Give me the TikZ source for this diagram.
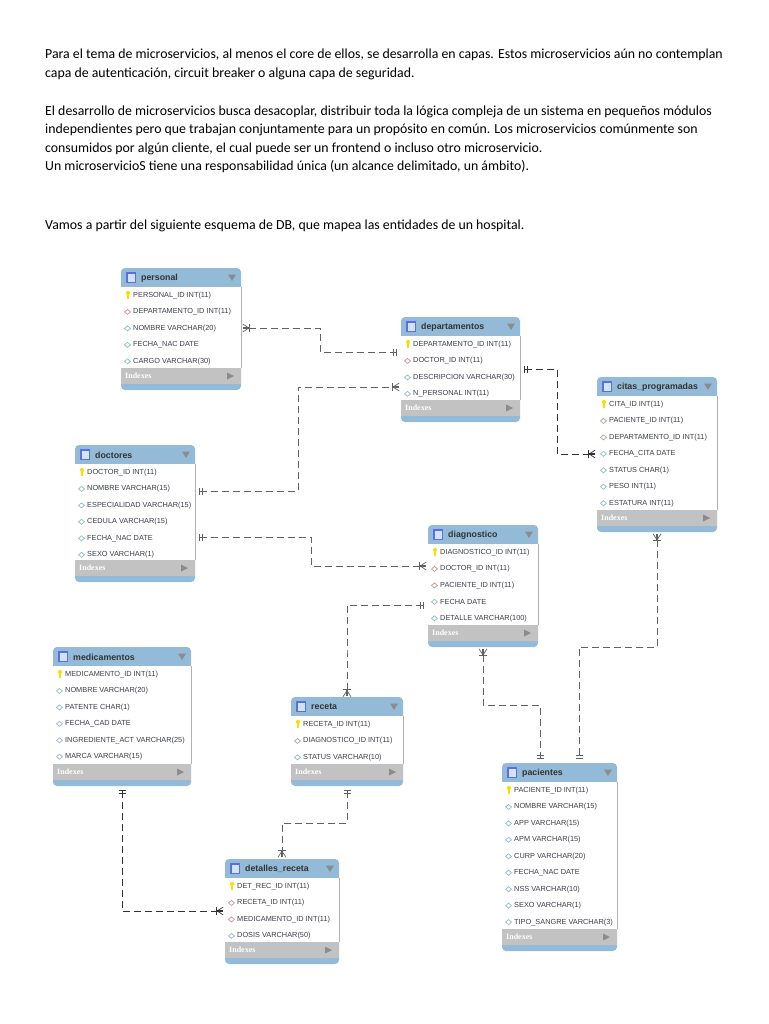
\documentclass[tikz,border=0pt]{standalone}
\usepackage{fontspec}
\setmainfont{Carlito}
\newfontfamily\rowfont{Liberation Sans}
\newfontfamily\titlefont{Liberation Sans}
\newfontfamily\idxfont{Liberation Serif}
\usetikzlibrary{arrows.meta,calc}
\definecolor{hdr}{HTML}{93BAD6}
\definecolor{band}{HTML}{C2C2C2}
\definecolor{ink}{HTML}{3A3F48}
\definecolor{fkc}{HTML}{C49A9A}
\definecolor{atc}{HTML}{8FC0C4}
\tikzset{
  x=1pt,y=-1pt,
  para/.style={anchor=base west,inner sep=0,font=\fontsize{13.83}{15}\selectfont,text=black},
  card/.style={rounded corners=4pt,fill=hdr,inner sep=0,outer sep=1.5pt},
  ttl/.style={anchor=west,inner sep=0,font=\titlefont\bfseries\fontsize{8.8}{10}\selectfont,text=black!80},
  rowtxt/.style={anchor=west,inner sep=0,font=\rowfont\fontsize{7.35}{9}\selectfont,text=ink},
  idx/.style={anchor=west,inner sep=0,font=\idxfont\bfseries\fontsize{8}{9}\selectfont,text=white},
  onetip/.tip={Bar[width=7pt,length=.8pt,sep=2pt]Bar[width=7pt,length=.8pt,sep=2.5pt]},
  crowtip/.tip={Bar[width=8pt,length=.8pt,sep=0pt]Rectangle[length=6pt,width=.6pt,sep=-6pt]Straight Barb[reversed,length=6pt,width=8pt,line width=.7pt]},
  rel/.style={draw=black!62,line width=.95pt,dash pattern=on 7pt off 4pt},
  reldark/.style={draw=black!80,line width=.9pt,dash pattern=on 7pt off 4pt},
}
% name, x1, y1, x2, y2, title, rows (type/text)
\newcommand{\dbtable}[7]{%
  \node[card,minimum width=#4-#2,minimum height=#5-#3] (#1) at ({(#2+#4)/2},{(#3+#5)/2}) {};
  \fill[white] (#2,#3+19) rectangle (#4,#5-22);
  \fill[band] (#2,#5-22) rectangle (#4,#5-6);
  \draw[black!30,line width=.5pt] (#4,#3+19) -- (#4,#5-22);
  \fill[hdr!60!blue] (#2+5,#3+4) rectangle (#2+15,#3+15);
  \fill[hdr!40!white] (#2+6.5,#3+6) rectangle (#2+13.5,#3+13.5);
  \node[ttl] (#1-title) at (#2+20,#3+10) {#6};
  \fill[black!45] (#4-13,#3+6.5) -- (#4-5,#3+6.5) -- (#4-9,#3+13) -- cycle;
  \node[idx] (#1-idx) at (#2+4,#5-14) {Indexes};
  \fill[black!45] (#4-14,#5-17.5) -- (#4-14,#5-10.5) -- (#4-7,#5-14) -- cycle;
  \foreach \t/\txt [count=\i] in {#7}{
    \pgfmathsetmacro{\yy}{#3+27.5+(\i-1)*16.45}
    \node[rowtxt] (#1-r\i) at (#2+12,\yy) {\txt};
    \if\t k
      \fill[yellow!80!orange] (#2+7,\yy-2.5) circle (2.1);
      \fill[yellow!80!orange] (#2+6.3,\yy-2) rectangle (#2+7.7,\yy+3);
    \else\if\t f
      \draw[fkc,line width=.7pt] (#2+3.5,\yy) -- (#2+6.5,\yy-2.5) -- (#2+9.5,\yy) -- (#2+6.5,\yy+2.5) -- cycle;
    \else
      \draw[atc,line width=.7pt] (#2+3.5,\yy) -- (#2+6.5,\yy-2.5) -- (#2+9.5,\yy) -- (#2+6.5,\yy+2.5) -- cycle;
    \fi\fi
  }
}
\begin{document}
\begin{tikzpicture}
\useasboundingbox (0,0) rectangle (768,1024);
\fill[white] (0,0) rectangle (768,1024);
\node[para] (l1) at (45,59) {Para el tema de microservicios, al menos el core de ellos, se desarrolla en capas. Estos microservicios aún no contemplan};
\node[para] (l2) at (45,78) {capa de autenticación, circuit breaker o alguna capa de seguridad.};
\node[para] (l3) at (45,115.5) {El desarrollo de microservicios busca desacoplar, distribuir toda la lógica compleja de un sistema en pequeños módulos};
\node[para] (l4) at (45,134) {independientes pero que trabajan conjuntamente para un propósito en común. Los microservicios comúnmente son};
\node[para] (l5) at (45,152.5) {consumidos por algún cliente, el cual puede ser un frontend o incluso otro microservicio.};
\node[para] (l6) at (45,171) {Un microservicioS tiene una responsabilidad única (un alcance delimitado, un ámbito).};
\node[para] (l7) at (45,229.5) {Vamos a partir del siguiente esquema de DB, que mapea las entidades de un hospital.};

\dbtable{personal}{121}{268}{241}{390}{personal}{k/PERSONAL\_ID INT(11),f/DEPARTAMENTO\_ID INT(11),a/NOMBRE VARCHAR(20),a/FECHA\_NAC DATE,a/CARGO VARCHAR(30)}
\dbtable{departamentos}{401}{317}{520}{422}{departamentos}{k/DEPARTAMENTO\_ID INT(11),f/DOCTOR\_ID INT(11),a/DESCRIPCION VARCHAR(30),a/N\_PERSONAL INT(11)}
\dbtable{citas}{597}{377}{717}{532}{citas\_programadas}{k/CITA\_ID INT(11),f/PACIENTE\_ID INT(11),f/DEPARTAMENTO\_ID INT(11),a/FECHA\_CITA DATE,a/STATUS CHAR(1),a/PESO INT(11),a/ESTATURA INT(11)}
\dbtable{doctores}{75}{445}{195}{582}{doctores}{k/DOCTOR\_ID INT(11),a/NOMBRE VARCHAR(15),a/ESPECIALIDAD VARCHAR(15),a/CEDULA VARCHAR(15),a/FECHA\_NAC DATE,a/SEXO VARCHAR(1)}
\dbtable{diagnostico}{428}{525}{538}{647}{diagnostico}{k/DIAGNOSTICO\_ID INT(11),f/DOCTOR\_ID INT(11),f/PACIENTE\_ID INT(11),a/FECHA DATE,a/DETALLE VARCHAR(100)}
\dbtable{medicamentos}{53}{647}{191}{786}{medicamentos}{k/MEDICAMENTO\_ID INT(11),a/NOMBRE VARCHAR(20),a/PATENTE CHAR(1),a/FECHA\_CAD DATE,a/INGREDIENTE\_ACT VARCHAR(25),a/MARCA VARCHAR(15)}
\dbtable{receta}{291}{697}{403}{786}{receta}{k/RECETA\_ID INT(11),f/DIAGNOSTICO\_ID INT(11),a/STATUS VARCHAR(10)}
\dbtable{detalles}{225}{859}{339}{964}{detalles\_receta}{k/DET\_REC\_ID INT(11),f/RECETA\_ID INT(11),f/MEDICAMENTO\_ID INT(11),a/DOSIS VARCHAR(50)}
\dbtable{pacientes}{502}{763}{617}{951}{pacientes}{k/PACIENTE\_ID INT(11),a/NOMBRE VARCHAR(15),a/APP VARCHAR(15),a/APM VARCHAR(15),a/CURP VARCHAR(20),a/FECHA\_NAC DATE,a/NSS VARCHAR(10),a/SEXO VARCHAR(1),a/TIPO\_SANGRE VARCHAR(3)}

\draw[rel,crowtip-onetip] (personal.east |- 0,328) -- (320,328) -- (320,352) -- (departamentos.west |- 0,352);
\draw[rel,onetip-crowtip] (doctores.east |- 0,491) -- (298,491) -- (298,387) -- (departamentos.west |- 0,387);
\draw[reldark,onetip-crowtip] (departamentos.east |- 0,369) -- (557,369) -- (557,454) -- (citas.west |- 0,454);
\draw[rel,onetip-crowtip] (doctores.east |- 0,537) -- (311,537) -- (311,566) -- (diagnostico.west |- 0,566);
\draw[rel,onetip-crowtip] (diagnostico.west |- 0,605) -- (347,605) -- (347,650) -- (347,697 -| receta.north);
\draw[rel,crowtip-onetip] (483,0 |- diagnostico.south) -- (483,705) -- (540,705) -- (540,0 |- pacientes.north);
\draw[rel,crowtip-onetip] (657,0 |- citas.south) -- (657,647) -- (579,647) -- (579,0 |- pacientes.north);
\draw[reldark,onetip-crowtip] (122,0 |- medicamentos.south) -- (122,911) -- (detalles.west |- 0,911);
\draw[rel,onetip-crowtip] (347,0 |- receta.south) -- (347,823) -- (282,823) -- (282,0 |- detalles.north);
\end{tikzpicture}
\end{document}
